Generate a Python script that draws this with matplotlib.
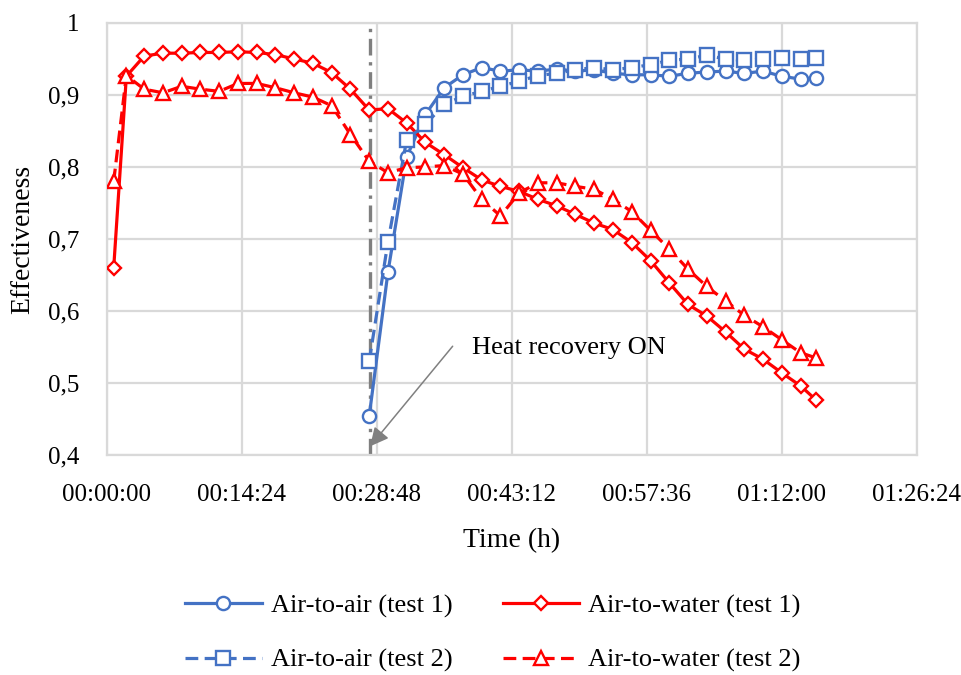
import matplotlib
matplotlib.use('Agg')
import matplotlib.pyplot as plt
from matplotlib.ticker import FuncFormatter

BLUE = '#4472C4'
RED = '#FF0000'
GRID = '#D9D9D9'

plt.rcParams['font.family'] = ['Liberation Serif', 'DejaVu Serif']

# time in minutes
t_water = [0.75, 2.1, 4, 6, 8, 10, 12, 14, 16, 18, 20, 22, 24, 26, 28, 30, 32, 34,
           36, 38, 40, 42, 44, 46, 48, 50, 52, 54, 56, 58, 60, 62, 64, 66, 68, 70,
           72, 74, 75.6]
water_test1 = [0.660, 0.926, 0.954, 0.958, 0.958, 0.959, 0.959, 0.960, 0.959, 0.956,
               0.950, 0.944, 0.931, 0.908, 0.879, 0.881, 0.861, 0.834, 0.817, 0.799,
               0.782, 0.773, 0.766, 0.755, 0.746, 0.734, 0.722, 0.713, 0.695, 0.670,
               0.639, 0.609, 0.593, 0.571, 0.547, 0.533, 0.514, 0.496, 0.477]
water_test2 = [0.780, 0.927, 0.908, 0.903, 0.912, 0.908, 0.905, 0.916, 0.916, 0.910,
               0.903, 0.897, 0.885, 0.845, 0.808, 0.792, 0.799, 0.800, 0.802, 0.790,
               0.755, 0.732, 0.764, 0.778, 0.778, 0.773, 0.769, 0.755, 0.738, 0.712,
               0.686, 0.658, 0.634, 0.614, 0.594, 0.578, 0.560, 0.542, 0.535]

t_air = [28, 30, 32, 34, 36, 38, 40, 42, 44, 46, 48, 50, 52, 54, 56, 58, 60, 62, 64,
         66, 68, 70, 72, 74, 75.6]
air_test1 = [0.454, 0.654, 0.814, 0.873, 0.910, 0.928, 0.938, 0.933, 0.935, 0.933,
             0.936, 0.933, 0.935, 0.930, 0.928, 0.928, 0.926, 0.930, 0.932, 0.933,
             0.930, 0.933, 0.926, 0.922, 0.924]
air_test2 = [0.530, 0.696, 0.838, 0.859, 0.887, 0.898, 0.905, 0.912, 0.919, 0.927,
             0.930, 0.935, 0.938, 0.935, 0.938, 0.942, 0.948, 0.950, 0.955, 0.950,
             0.948, 0.950, 0.952, 0.950, 0.952]

hr_on = 28.1  # heat recovery switched on (min)
x_ticks = [0, 14.4, 28.8, 43.2, 57.6, 72, 86.4]
y_ticks = [0.4, 0.5, 0.6, 0.7, 0.8, 0.9, 1.0]

fig = plt.figure(figsize=(9.61, 6.75), dpi=100)
ax = fig.add_axes([0.111, 0.326, 0.843, 0.640])

lw = 2.3
mk = dict(markerfacecolor='white', markeredgewidth=1.7)
dash = (4, 2)

h1, = ax.plot(t_air, air_test1, color=BLUE, lw=lw, marker='o', ms=9.5,
              markeredgecolor=BLUE, label='Air-to-air (test 1)', zorder=3, **mk)
h2, = ax.plot(t_water, water_test1, color=RED, lw=lw, marker='D', ms=7.5,
              markeredgecolor=RED, label='Air-to-water (test 1)', zorder=3, **mk)
h3, = ax.plot(t_air, air_test2, color=BLUE, lw=lw, marker='s', ms=9.5,
              markeredgecolor=BLUE, dashes=dash, label='Air-to-air (test 2)',
              zorder=3, **mk)
h4, = ax.plot(t_water, water_test2, color=RED, lw=lw, marker='^', ms=10.5,
              markeredgecolor=RED, dashes=dash, label='Air-to-water (test 2)',
              zorder=3, **mk)

ax.axvline(hr_on, color='#7F7F7F', lw=2.4, dashes=(5, 2, 1, 2), zorder=2)

ax.annotate('', xy=(hr_on, 0.412), xytext=(36.9, 0.551),
            arrowprops=dict(arrowstyle='-|>', color='#808080', lw=1.1,
                            mutation_scale=28, shrinkA=0, shrinkB=0), zorder=4)
ax.text(39.0, 0.549, 'Heat recovery ON', fontsize=19, ha='left', va='center')

ax.set_xlim(0, 86.4)
ax.set_ylim(0.4, 1.0)
ax.set_xticks(x_ticks)
ax.set_yticks(y_ticks)


def hms(v, pos):
    s = int(round(v * 60))
    return f'{s // 3600:02d}:{(s % 3600) // 60:02d}:{s % 60:02d}'


def comma(v, pos):
    return '1' if abs(v - 1) < 1e-9 else f'{v:.1f}'.replace('.', ',')


ax.xaxis.set_major_formatter(FuncFormatter(hms))
ax.yaxis.set_major_formatter(FuncFormatter(comma))
ax.tick_params(axis='both', length=0, labelsize=18)
ax.tick_params(axis='x', pad=21)
ax.tick_params(axis='y', pad=20)
ax.grid(True, color=GRID, lw=1.6, zorder=0)
ax.set_axisbelow(True)
for s in ax.spines.values():
    s.set_color(GRID)
    s.set_linewidth(1.6)

ax.set_xlabel('Time (h)', fontsize=20, labelpad=16)
ax.set_ylabel('Effectiveness', fontsize=20, labelpad=9)

fig.legend(handles=[h1, h3, h2, h4], ncol=2, loc='center',
           bbox_to_anchor=(0.513, 0.062), frameon=False, fontsize=19,
           handlelength=2.9, handletextpad=0.35, columnspacing=1.9,
           labelspacing=1.15, numpoints=1)

fig.savefig('out.png', dpi=100, facecolor='white')
